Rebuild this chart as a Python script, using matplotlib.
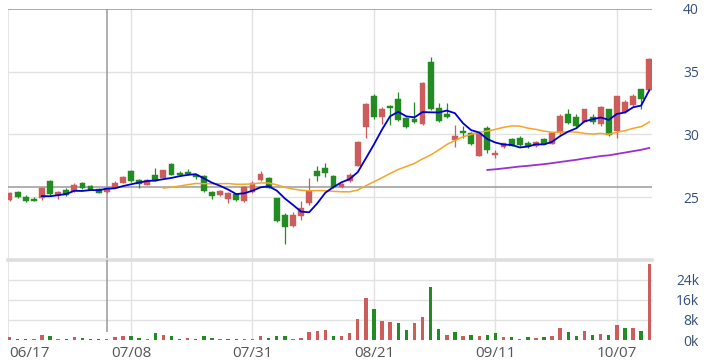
import matplotlib
matplotlib.use("Agg")
import matplotlib.pyplot as plt
import numpy as np
import pandas as pd

dates = ["06/17","06/18","06/19","06/20","06/21","06/24","06/25","06/26","06/27","06/28",
         "07/01","07/02","07/03","07/04","07/05","07/08","07/09","07/10","07/11","07/12",
         "07/15","07/16","07/17","07/18","07/19","07/22","07/23","07/26","07/29","07/30",
         "07/31","08/01","08/02","08/05","08/06","08/07","08/08","08/09","08/12","08/13",
         "08/14","08/15","08/16","08/19","08/20","08/21","08/22","08/23","08/26","08/27",
         "08/28","08/29","08/30","09/02","09/03","09/04","09/05","09/06","09/09","09/10",
         "09/11","09/12","09/13","09/16","09/18","09/19","09/20","09/23","09/24","09/25",
         "09/26","09/27","09/30","10/01","10/04","10/07","10/08","10/09","10/11","10/14"]

opens = [24.8,25.4,25.0,24.85,24.9,26.3,25.2,25.6,25.5,26.1,
         25.9,25.65,25.4,25.75,26.15,27.1,26.35,26.0,26.75,26.55,
         27.65,26.95,27.0,26.75,26.7,25.4,25.2,24.85,25.25,24.65,
         25.4,26.35,26.5,24.9,23.55,22.7,23.5,24.5,27.05,27.3,
         26.7,25.8,26.3,27.5,30.6,33.05,31.4,32.25,32.8,31.3,
         31.2,30.85,35.8,32.1,31.6,29.55,30.25,30.1,28.3,30.5,
         28.35,29.0,29.6,29.7,29.35,29.05,29.6,29.25,30.1,31.6,
         31.35,31.0,31.4,30.8,32.0,30.3,31.8,32.35,33.6,33.55]
highs = [25.4,25.45,25.15,25.0,25.8,26.35,25.5,25.7,26.1,26.2,
         26.0,25.7,25.8,26.3,26.7,27.2,26.45,26.45,27.3,27.2,
         27.7,27.05,27.25,26.85,26.8,25.5,25.6,25.4,25.3,25.9,
         26.3,27.1,26.6,24.95,23.7,23.85,24.65,26.5,27.5,27.7,
         26.75,26.1,26.9,29.5,32.5,33.2,32.2,32.35,33.4,31.4,
         32.6,34.2,36.15,32.5,32.5,30.75,30.7,30.2,30.2,30.7,
         28.75,29.35,29.75,29.85,29.45,29.45,29.75,30.15,31.6,32.0,
         31.65,32.05,31.65,32.3,32.0,33.1,32.75,33.2,33.65,36.1]
lows = [24.7,24.95,24.6,24.65,24.8,25.2,24.85,25.1,25.4,25.65,
        25.55,25.3,25.35,25.7,26.1,26.2,25.7,25.95,26.25,26.5,
        26.75,26.65,26.8,26.45,25.4,24.85,25.1,24.55,24.7,24.6,
        25.3,26.3,25.7,23.05,21.25,22.6,23.2,24.4,26.3,26.6,
        25.75,25.75,26.2,27.45,29.7,31.25,30.8,30.75,31.1,30.5,
        30.9,30.75,31.95,31.0,31.3,29.0,29.75,29.15,28.25,28.5,
        28.1,28.95,29.05,29.05,28.95,29.0,29.2,29.2,30.05,30.85,
        30.6,30.95,30.85,30.7,29.9,29.7,31.7,32.25,32.05,33.5]
closes = [25.3,25.0,24.65,24.7,25.75,25.25,25.4,25.15,25.95,25.7,
          25.6,25.35,25.75,26.1,26.6,26.3,26.05,26.35,26.3,27.15,
          26.8,26.75,26.85,26.6,25.45,25.1,25.5,25.35,24.8,25.8,
          26.1,26.85,25.75,23.1,22.65,23.55,24.15,25.5,26.65,26.9,
          25.8,26.05,26.8,29.4,32.4,31.35,32.0,32.1,31.15,30.6,
          30.95,34.1,32.0,31.1,31.35,29.9,30.1,29.25,30.15,28.75,
          28.5,29.3,29.1,29.15,29.1,29.4,29.25,30.15,31.45,30.9,
          30.7,32.0,31.0,32.15,29.95,33.05,32.6,33.05,32.85,36.05]
volumes_k = [1.1,0.3,0.3,0.2,2.0,1.6,0.3,0.3,1.3,0.9,
             0.3,0.3,0.2,1.3,1.6,1.6,0.9,0.3,2.8,2.0,
             1.5,0.2,0.7,0.3,1.5,0.9,0.3,0.3,0.3,0.2,
             0.2,1.5,0.9,1.6,1.6,0.3,0.9,3.2,3.6,4.0,
             1.6,1.6,2.6,8.2,16.9,12.5,7.7,7.3,6.6,4.0,
             6.6,9.2,21.0,4.2,2.0,3.3,1.6,2.0,1.6,2.0,
             2.6,1.1,1.1,0.3,1.1,0.7,1.1,1.6,4.6,3.3,
             1.6,3.6,2.0,2.4,2.0,5.9,4.6,4.6,3.6,30.4]

price_ticks = [25, 30, 35, 40]
vol_ticks = [0, 8, 16, 24]
ref_price = 25.8
cursor_idx = 12

RED = "#cd5c5c"
GREEN = "#228b22"
GRID = "#e2e2e2"
LABEL = "#34507a"

n = len(closes)
x = np.arange(n)
o = np.array(opens); c = np.array(closes); h = np.array(highs); l = np.array(lows)
up = c >= o
ccol = np.where(up, RED, GREEN)
prev = np.concatenate([[o[0]], c[:-1]])
vcol = np.where(c >= prev, RED, GREEN)

s = pd.Series(closes)
ma5 = s.rolling(5).mean()
ma20 = s.rolling(20).mean()
ma60 = s.rolling(60).mean()

W, H = 712, 364
fig = plt.figure(figsize=(W/100, H/100), dpi=100)
L = 8/W; R = 651.7/W
ax = fig.add_axes([L, 1-259.8/H, R-L, (259.8-9)/H])
axv = fig.add_axes([L, 1-340/H, R-L, (340-259.8)/H])

xlim = (-0.19, 79.3)
for a in (ax, axv):
    a.set_xlim(*xlim)
    for sp in a.spines.values():
        sp.set_visible(False)
    a.axvline(xlim[0], color=GRID, lw=1.2, zorder=0)
    for k in range(15, n, 15):
        a.axvline(k, color=GRID, lw=1.0, zorder=0)

ax.set_ylim(20, 40)
for p in [25, 30, 35]:
    ax.axhline(p, color=GRID, lw=1.0, zorder=0)
ax.axhline(40, color="#b8a98c", lw=1.4, zorder=1)
ax.axhline(ref_price, color="#9a9a9a", lw=1.1, zorder=1)
ax.axvline(cursor_idx, color="#9a9a9a", lw=1.1, zorder=1)

# candles
ax.vlines(x, l, h, colors=ccol, lw=0.9, zorder=3)
body_bottom = np.minimum(o, c)
body_h = np.maximum(np.abs(c - o), 0.06)
ax.bar(x, body_h, bottom=body_bottom, width=0.72, color=ccol, edgecolor=ccol, lw=0.3, zorder=4)

ax.plot(x, ma20, color="#f5a623", lw=1.1, zorder=5)
ax.plot(x, ma60, color="#9b30d0", lw=1.3, zorder=5)
ax.plot(x, ma5, color="#0000cd", lw=1.3, zorder=6)

ax.yaxis.tick_right()
ax.set_yticks(price_ticks)
ax.set_yticklabels([str(t) for t in price_ticks])
ax.tick_params(axis="y", length=0, pad=34, labelsize=10, labelcolor=LABEL)
for t in ax.get_yticklabels():
    t.set_horizontalalignment("right")
    t.set_fontfamily(["Open Sans", "DejaVu Sans"])
ax.set_xticks([])

# volume
axv.set_ylim(0, 32)
for v in [8, 16, 24]:
    axv.axhline(v, color=GRID, lw=1.0, zorder=0)
axv.axhline(32, color="#dedede", lw=2.6, zorder=1, clip_on=False)
axv.vlines(cursor_idx, 3.2, 32, colors="#9a9a9a", lw=1.1, zorder=1)
axv.bar(x, volumes_k, width=0.42, color=vcol, zorder=3)
axv.yaxis.tick_right()
axv.set_yticks(vol_ticks)
axv.set_yticklabels([f"{t}k" for t in vol_ticks])
axv.tick_params(axis="y", length=0, pad=34, labelsize=10, labelcolor=LABEL)
for t in axv.get_yticklabels():
    t.set_horizontalalignment("right")
    t.set_fontfamily(["Open Sans", "DejaVu Sans"])

tick_idx = list(range(0, n, 15))
axv.set_xticks(tick_idx)
axv.set_xticklabels([dates[i] for i in tick_idx])
axv.tick_params(axis="x", length=0, pad=4, labelsize=11, labelcolor="#555555")
for i, t in enumerate(axv.get_xticklabels()):
    t.set_fontfamily(["Open Sans", "DejaVu Sans"])
    if i == 0:
        t.set_horizontalalignment("left")

fig.savefig("out.png", dpi=100)
